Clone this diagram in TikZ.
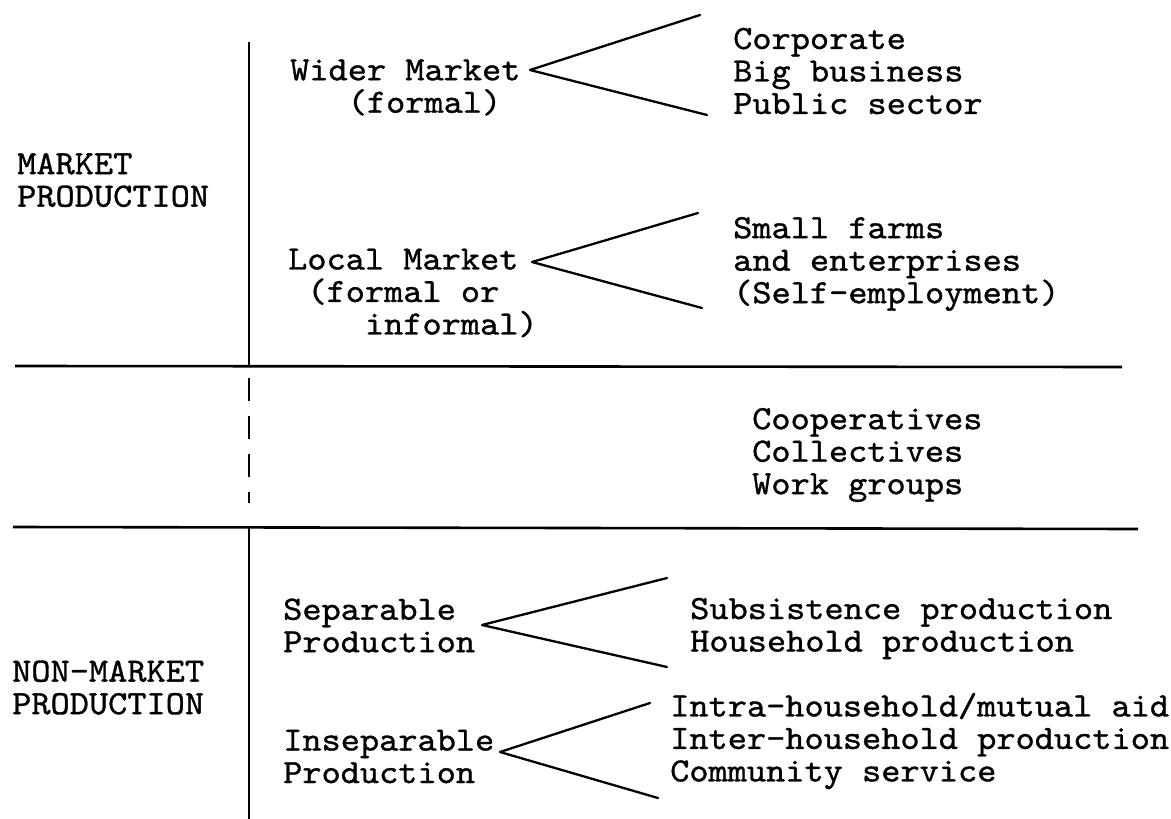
\documentclass[tikz,border=0pt]{standalone}
\usepackage{fontspec}
% typewriter face, widened to Courier proportions
\newfontfamily\typewriter{lmmono10-regular.otf}[FakeStretch=1.075,FakeBold=1]
\begin{document}
\begin{tikzpicture}[x=1pt,y=-1pt,
  lbl/.style={anchor=west,align=left,inner sep=0pt,
    font=\typewriter\fontsize{34}{32.5}\selectfont},
  rule/.style={line width=2.6pt},
  axis/.style={line width=2.3pt},
  fork/.style={line width=2.3pt,line cap=round,line join=round}]
\useasboundingbox[fill=white] (0,0) rectangle (1171,819);

% row labels
\node[lbl] (mkt)    at (17,180)  {MARKET\\PRODUCTION};
\node[lbl] (nonmkt) at (12,687.5){NON-MARKET\\PRODUCTION};

% market production
\node[lbl] (wider) at (290,87.5) {Wider Market\\\phantom{xxx}(formal)};
\node[lbl] (wideritems) at (733,71) {Corporate\\Big business\\Public sector};
\node[lbl] (local) at (288,293) {Local Market\\\phantom{x}(formal or\\\phantom{xxxx}informal)};
\node[lbl] (localitems) at (733,264) {Small farms\\and enterprises\\(Self-employment)};

% intermediate forms
\node[lbl] (coop) at (752,455) {Cooperatives\\Collectives\\Work groups};

% non-market production
\node[lbl] (sep) at (283,625.5) {Separable\\Production};
\node[lbl] (sepitems) at (690,628.5) {Subsistence production\\Household production};
\node[lbl] (insep) at (283,756.5) {Inseparable\\Production};
\node[lbl] (insepitems) at (670,741) {Intra-household/mutual aid\\Inter-household production\\Community service};

% fork points
\coordinate (wA) at (530,70);  \coordinate (wU) at (700,15);  \coordinate (wL) at (707,115);
\coordinate (lA) at (532,262); \coordinate (lU) at (698,213); \coordinate (lL) at (702,308);
\coordinate (sA) at (482,625); \coordinate (sU) at (667,578); \coordinate (sL) at (667,667);
\coordinate (iA) at (500,752); \coordinate (iU) at (650,703); \coordinate (iL) at (658,798);

\draw[fork] (wU) -- (wA) -- (wL);
\draw[fork] (lU) -- (lA) -- (lL);
\draw[fork] (sU) -- (sA) -- (sL);
\draw[fork] (iU) -- (iA) -- (iL);

% horizontal dividers
\coordinate (h1a) at (15,366);  \coordinate (h1b) at (1122,367);
\coordinate (h2a) at (13,527);  \coordinate (h2b) at (1138,529);
\draw[rule] (h1a) -- (h1b);
\draw[rule] (h2a) -- (h2b);

% vertical axis
\coordinate (v0) at (249,42);
\coordinate (v1) at (249,366);
\coordinate (v2) at (249,378);
\coordinate (v3) at (249,503);
\coordinate (v4) at (249,527);
\coordinate (v5) at (249,819);
\draw[axis] (v0) -- (v1);
\draw[axis,dash pattern=on 23pt off 15pt] (v2) -- (v3);
\draw[axis] (v4) -- (v5);
\end{tikzpicture}
\end{document}
